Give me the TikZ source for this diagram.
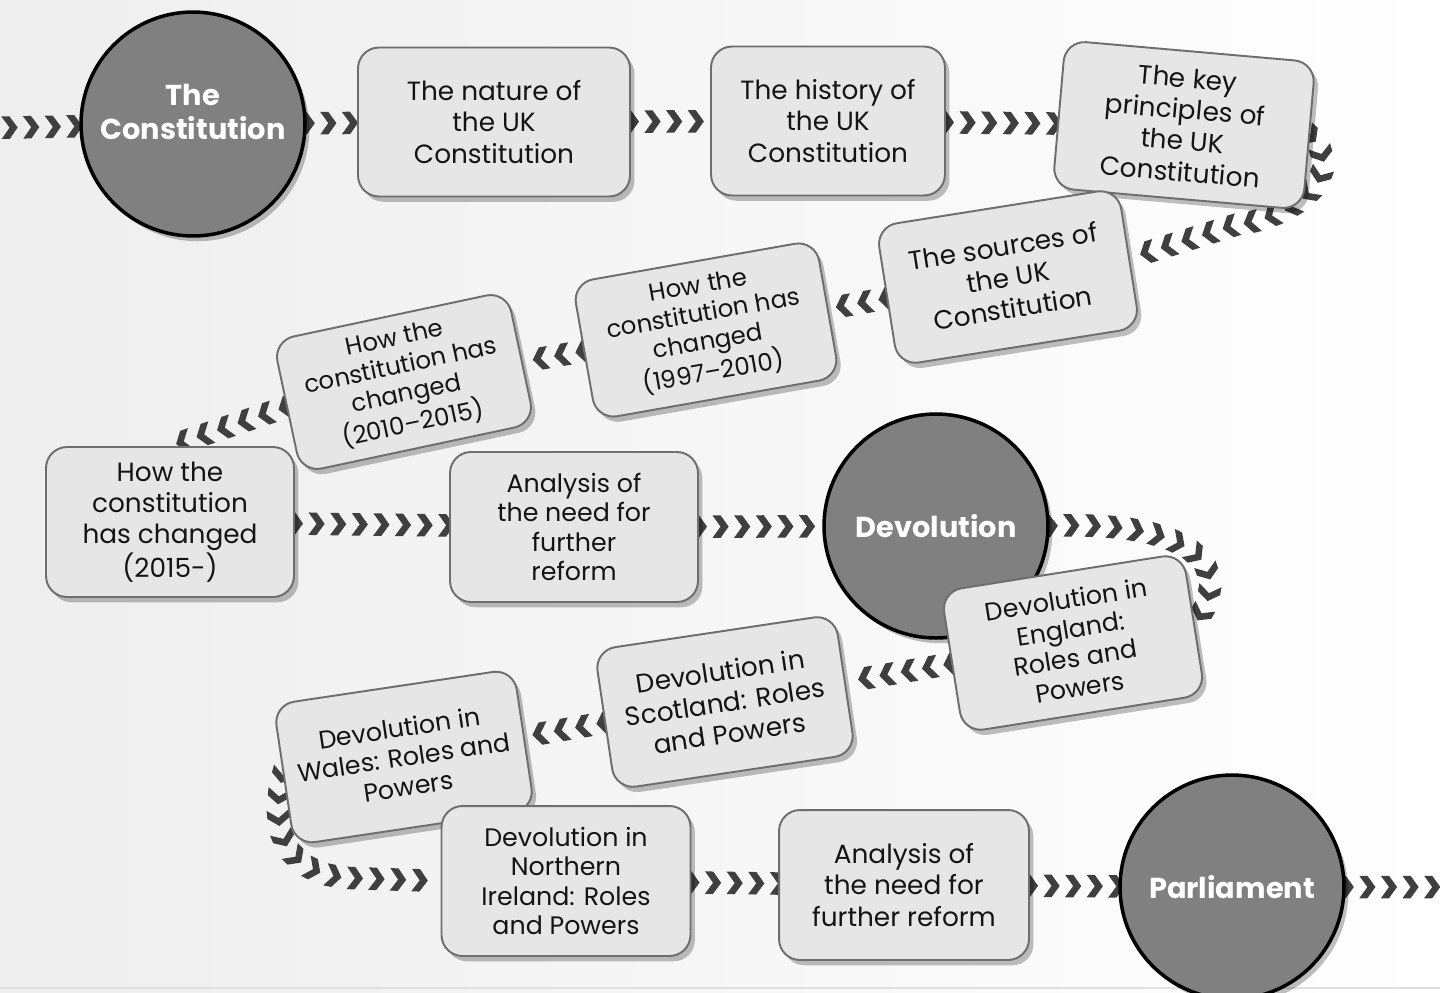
\documentclass[tikz,border=0pt]{standalone}
\usepackage{fontspec}
\setmainfont{Poppins}
\usetikzlibrary{shadows,decorations.markings}
\definecolor{boxfill}{HTML}{E6E6E6}
\definecolor{boxline}{HTML}{6E6E6E}
\definecolor{discfill}{HTML}{808080}
\definecolor{chevcol}{HTML}{3F3F3F}
\definecolor{bgleft}{HTML}{EEEEEE}
\newcommand\boxfont{\fontsize{15}{17.8}\selectfont}
\newcommand\midfont{\fontsize{14.4}{16.8}\selectfont}
\newcommand\tightfont{\fontsize{13.9}{16.2}\selectfont}
\newcommand\discfont{\fontsize{16.4}{19.5}\selectfont\bfseries}
\pgfdeclarelayer{bg}
\pgfdeclarelayer{chev}
\pgfsetlayers{bg,chev,main}
\tikzset{
  box/.style={draw=boxline, fill=boxfill, line width=1.1pt, rounded corners=0.42cm,
    align=center, inner sep=0pt, font=\boxfont, text=black!92,
    drop shadow={shadow xshift=2.5pt, shadow yshift=-3pt, opacity=0.25, fill=black}},
  disc/.style={circle, draw=black, line width=2pt, fill=discfill, text=white,
    font=\discfont, align=center, minimum size=4.48cm, inner sep=0pt,
    drop shadow={shadow xshift=2.5pt, shadow yshift=-3pt, opacity=0.25, fill=black}},
  disctext/.style={text=white, font=\discfont, align=center, inner sep=0pt},
  chevs/.style={decoration={markings, mark=between positions 0 and 1 step 12.3pt with
    {\fill[chevcol] (-4.6pt,6.4pt) -- (0pt,6.4pt) -- (4.6pt,0pt) -- (0pt,-6.4pt) -- (-4.6pt,-6.4pt) -- (0pt,0pt) -- cycle;}}, decorate}
}
\begin{document}
\begin{tikzpicture}[x=0.02cm, y=-0.02cm]
\useasboundingbox (0,0) rectangle (1440,992);
\begin{pgfonlayer}{bg}
  \shade[left color=bgleft, right color=white] (0,0) rectangle (1440,992);
  \draw[black!12, line width=0.6pt] (0,988) -- (1440,988);
\end{pgfonlayer}

\coordinate (inL) at (-12,128);
\coordinate (outR) at (1455,887);

\node[disc] (c1) at (193,124) {};
\node[disctext] (c1t) at (193,112) {The\\Constitution};
\node[box, minimum width=5.44cm, minimum height=2.98cm] (b1) at (494,122) {The nature of\\the UK\\Constitution};
\node[box, minimum width=4.68cm, minimum height=2.98cm] (b2) at (828,121) {The history of\\the UK\\Constitution};
\node[box, rotate=-5, minimum width=5.02cm, minimum height=2.96cm] (b3) at (1184,125) {The key\\principles of\\the UK\\Constitution};
\node[box, rotate=9, minimum width=4.9cm, minimum height=2.82cm] (b4) at (1008,277) {The sources of\\the UK\\Constitution};
\node[box, rotate=10, font=\tightfont, minimum width=4.94cm, minimum height=2.78cm] (b5) at (706,330) {How the\\constitution has\\changed\\(1997–2010)};
\node[box, rotate=12, font=\tightfont, minimum width=4.78cm, minimum height=2.7cm] (b6) at (404,382) {How the\\constitution has\\changed\\(2010–2015)};
\node[box, minimum width=4.96cm, minimum height=3.0cm] (b7) at (170,522) {How the\\constitution\\has changed\\(2015-)};
\node[box, font=\midfont, minimum width=4.96cm, minimum height=3.0cm] (b8) at (574,527) {Analysis of\\the need for\\further\\reform};
\node[disc] (c2) at (936,526) {Devolution};
\node[box, rotate=9, font=\midfont, minimum width=4.9cm, minimum height=2.86cm] (b9) at (1073,643) {Devolution in\\England:\\Roles and\\Powers};
\node[box, rotate=8.5, minimum width=4.86cm, minimum height=2.82cm] (b10) at (725,702) {Devolution in\\Scotland: Roles\\and Powers};
\node[box, rotate=8.5, font=\midfont, minimum width=4.86cm, minimum height=2.84cm] (b11) at (404,757) {Devolution in\\Wales: Roles and\\Powers};
\node[box, font=\midfont, minimum width=4.98cm, minimum height=3.0cm] (b12) at (566,881) {Devolution in\\Northern\\Ireland: Roles\\and Powers};
\node[box, minimum width=5.0cm, minimum height=3.0cm] (b13) at (904,885) {Analysis of\\the need for\\further reform};
\node[disc] (c3) at (1232,887) {Parliament};

\begin{pgfonlayer}{chev}
  \path[chevs] (inL) -- (c1);
  \path[chevs] (c1) -- (b1);
  \path[chevs] (b1) -- (b2);
  \path[chevs] (b2) -- (b3);
  \path[chevs] (b3.east) .. controls (1345,170) and (1305,215) .. (1235,225) -- (b4.east);
  \path[chevs] (b4) -- (b5);
  \path[chevs] (b5) -- (b6);
  \path[chevs] (b6.west) -- (b7.north);
  \path[chevs] (b7) -- (b8);
  \path[chevs] (b8) -- (c2);
  \path[chevs] (c2.east) .. controls (1180,520) and (1240,560) .. (b9.east);
  \path[chevs] (b9) -- (b10);
  \path[chevs] (b10) -- (b11);
  \path[chevs] (b11.west) .. controls (265,845) and (300,875) .. (350,878) -- (b12.west);
  \path[chevs] (b12) -- (b13);
  \path[chevs] (b13) -- (c3);
  \path[chevs] (c3) -- (outR);
\end{pgfonlayer}
\end{tikzpicture}
\end{document}
